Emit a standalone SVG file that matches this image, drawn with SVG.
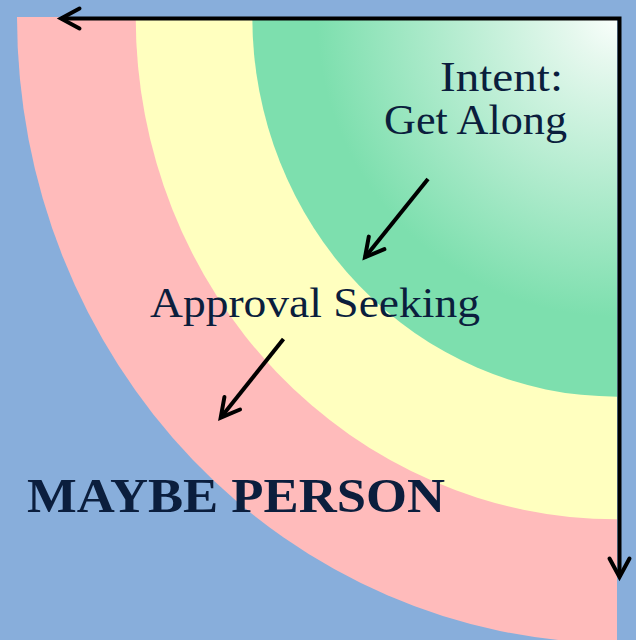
<svg xmlns="http://www.w3.org/2000/svg" width="636" height="640" viewBox="0 0 636 640">
<defs>
<radialGradient id="gGreen" gradientUnits="userSpaceOnUse" cx="617" cy="17" r="300">
<stop offset="0" stop-color="#FAFFFC"/>
<stop offset="0.15" stop-color="#E6F8EE"/>
<stop offset="1" stop-color="#7DDFAE"/>
</radialGradient>
<marker id="chev" markerUnits="userSpaceOnUse" markerWidth="40" markerHeight="40" viewBox="-25 -20 40 40" refX="0" refY="0" orient="auto-start-reverse">
<path d="M-18.5,-10 L0,0 L-18.5,10" fill="none" stroke="#000" stroke-width="4" stroke-linecap="round" stroke-linejoin="miter"/>
</marker>
<style>
.lbl{font-family:"Liberation Serif","Times New Roman",serif;fill:#0B1E3D;font-size:42px}
.big{font-family:"Liberation Serif","Times New Roman",serif;fill:#0B1E3D;font-size:48px;font-weight:bold}
.arr{fill:none;stroke:#000;stroke-width:4;marker-end:url(#chev)}
</style>
</defs>
<rect width="636" height="640" fill="#88AEDB"/>
<g id="outer-band">
<path d="M617,17 L17,17 A600,626 0 0 0 617,643 Z" fill="#FFBBBB"/>
</g>
<g id="middle-band">
<path d="M617,17 L135.7,17 A481.3,502.3 0 0 0 617,519.3 Z" fill="#FFFFBF"/>
</g>
<g id="inner-core">
<path d="M617,17 L252.3,17 A364.7,379.7 0 0 0 617,396.7 Z" fill="url(#gGreen)"/>
</g>
<g id="connectors">
<polyline points="61,18.5 619.5,18.5 619.5,577" fill="none" stroke="#000" stroke-width="4" stroke-linejoin="miter" marker-start="url(#chev)" marker-end="url(#chev)"/>
<line class="arr" x1="428" y1="179" x2="365" y2="257.3"/>
<line class="arr" x1="283.5" y1="339" x2="220.7" y2="417.7"/>
</g>
<g id="label-intent">
<text class="lbl" x="440" y="91" textLength="123" lengthAdjust="spacingAndGlyphs">Intent:</text>
<text class="lbl" x="384" y="133.5" textLength="183" lengthAdjust="spacingAndGlyphs">Get Along</text>
</g>
<g id="label-approval">
<text class="lbl" x="150" y="317" textLength="330" lengthAdjust="spacingAndGlyphs">Approval Seeking</text>
</g>
<g id="label-maybe">
<text class="big" x="27" y="512" textLength="418" lengthAdjust="spacingAndGlyphs">MAYBE PERSON</text>
</g>
</svg>
